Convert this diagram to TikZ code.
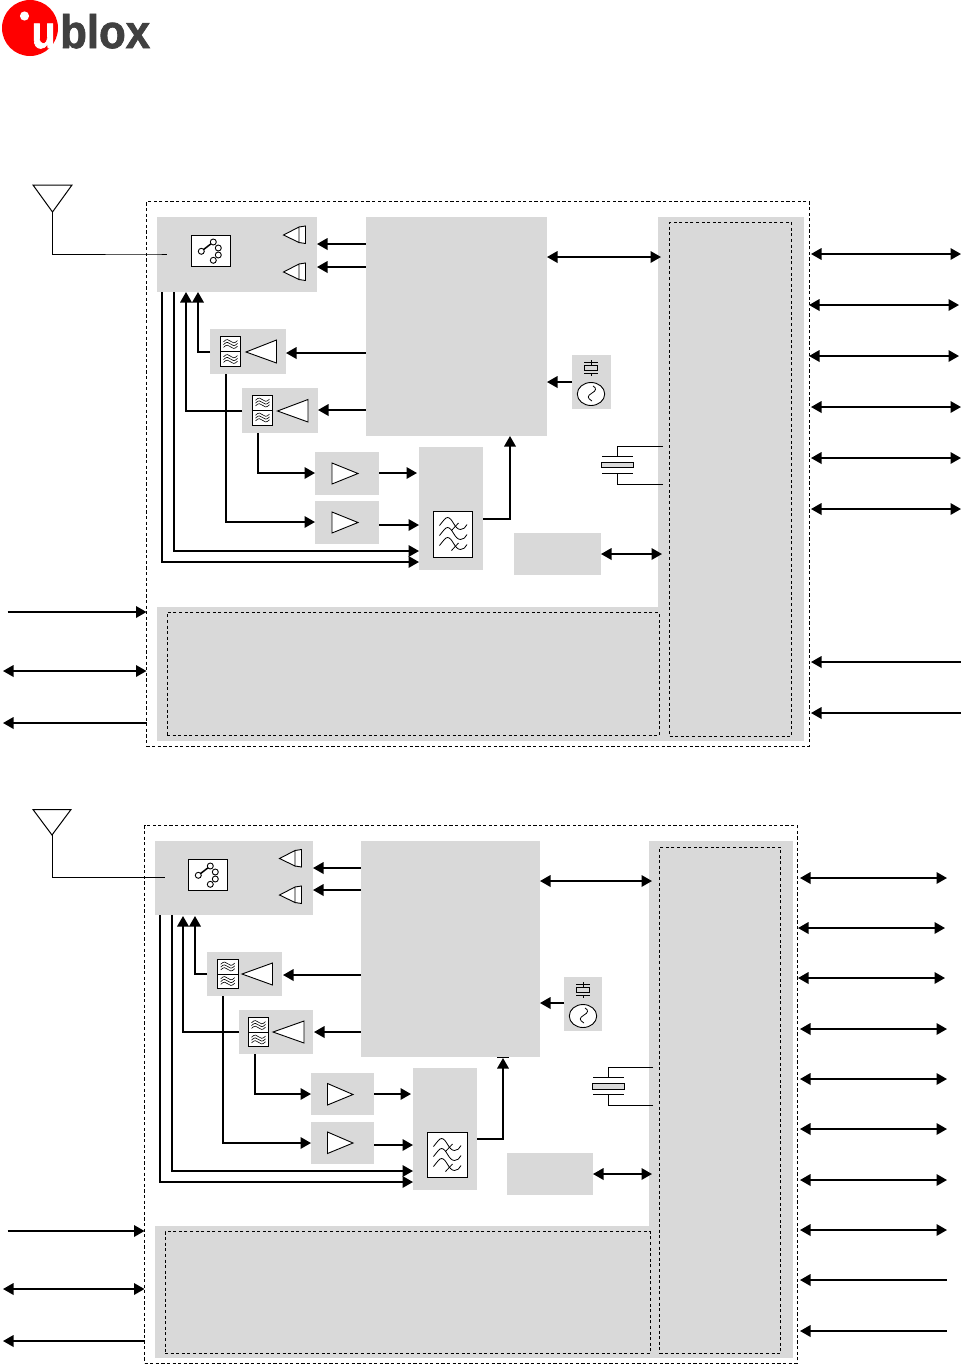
\documentclass[tikz,border=0pt]{standalone}
\usepackage{fontspec}
\setmainfont{Liberation Sans}
\newfontfamily\logofont[FakeBold=1.6]{Liberation Sans Bold}
\usetikzlibrary{arrows.meta}
\definecolor{boxgray}{HTML}{D9D9D9}
\definecolor{logored}{HTML}{FF0000}
\definecolor{logodark}{HTML}{404040}
\tikzset{
  grayblock/.style={fill=boxgray,draw=none,inner sep=0pt,outer sep=0pt,anchor=north west},
  iconbox/.style={fill=white,draw=black,line width=0.9pt,inner sep=0pt,outer sep=0pt,anchor=north west},
  chipedge/.style={draw=black,line width=0.9pt,dash pattern=on 3.2pt off 2.4pt,inner sep=0pt,outer sep=0pt,anchor=north west},
  zone/.style={draw=black,line width=0.8pt,dash pattern=on 3pt off 2.6pt,inner sep=0pt,outer sep=0pt,anchor=north west},
  wire/.style={line width=1.8pt,draw=black},
  thin wire/.style={line width=1pt,draw=black},
  toarrow/.style={wire,-{Triangle[length=10.5pt,width=11.5pt]}},
  fromarrow/.style={wire,{Triangle[length=10.5pt,width=11.5pt]}-},
  botharrow/.style={wire,{Triangle[length=10.5pt,width=11.5pt]}-{Triangle[length=10.5pt,width=11.5pt]}},
  symbol/.style={fill=white,draw=black,line width=0.9pt},
  fine/.style={line width=0.6pt,draw=black},
}
% name, x1, y1, x2, y2
\newcommand\rbox[6][grayblock]{\node[#1,minimum width={(#5-#3)*1pt},minimum height={(#6-#4)*1pt}] (#2) at (#3,#4) {};}
% tip x, base x, y top, y bottom, tip y
\newcommand\amptri[5]{\draw[symbol] (#1,#5) -- (#2,#3) -- (#2,#4) -- cycle;}
% double triangle: tip x, centre y
\newcommand\drvtri[2]{%
  \draw[symbol] (#1+15.5,#2-8) -- (#1+22,#2-9) -- (#1+22,#2+8.5) -- (#1+15.5,#2+7.5);
  \draw[symbol] (#1,#2) -- (#1+15.5,#2-8) -- (#1+15.5,#2+7.5) -- cycle;}
% switch glyph relative to icon top left
\newcommand\switchglyph[2]{\begin{scope}[shift={(#1,#2)}]
  \draw[line width=1.5pt] (10.3,16.3) -- (22.3,7);
  \foreach \cx/\cy in {10.3/16.3,22.3/7,27.3/13,27.3/20,22.3/25.3}
    \draw[symbol] (\cx,\cy) circle[radius=3pt];
\end{scope}}
% wave lines in a filter cell, relative to cell centre
\newcommand\smallwaves[2]{\begin{scope}[shift={(#1,#2)}]
  \foreach \dy in {-2.8,0,2.8}
    \draw[fine] (-7,\dy+0.6) .. controls (-4,\dy-2.6) and (-2,\dy-2) .. (0,\dy) .. controls (2,\dy+2) and (4,\dy+2.6) .. (7,\dy-0.6);
\end{scope}}
\newcommand\mixwaves[2]{\begin{scope}[shift={(#1,#2)}]
  \foreach \dy in {0,10,20}
    \draw[line width=0.8pt] (6,14+\dy) .. controls (10,9+\dy) and (12,6+\dy) .. (14,6+\dy) .. controls (19,6+\dy) and (21,18+\dy) .. (27,18+\dy) .. controls (30,18+\dy) and (32,16+\dy) .. (33.5,13+\dy);
  \draw[line width=0.8pt] (18,19) -- (25,11.5) (18,39) -- (25,31.5);
\end{scope}}
% crystal: centre x, top lead y, bottom lead y, unused, lead end x
\newcommand\xtal[5]{%
  \draw[thin wire] (#5,#2) -| (#1,#2+10);
  \draw[thin wire] (#1-15.5,#2+10) -- (#1+15.5,#2+10);
  \draw[symbol,fill=boxgray] (#1-16,#2+16) rectangle (#1+16,#2+21.5);
  \draw[thin wire] (#1-15.5,#2+27) -- (#1+15.5,#2+27);
  \draw[thin wire] (#5,#3) -| (#1,#2+27);
}
% oscillator glyph: centre x, box top y
\newcommand\oscglyph[2]{\begin{scope}[shift={(#1,#2)}]
  \draw[fine] (0,5) -- (0,10) (-7,7.5) -- (7,7.5);
  \draw[symbol,fill=boxgray] (-6.5,10.5) rectangle (6.5,15);
  \draw[fine] (-7,18) -- (7,18) (0,18) -- (0,21);
  \draw[symbol] (0,39) ellipse[x radius=13.7pt,y radius=11.5pt];
  \draw[line width=0.8pt] (2,31) .. controls (6,33) and (5,36) .. (1,38) .. controls (-4,41) and (-4,43) .. (1,46);
\end{scope}}
\begin{document}
\begin{tikzpicture}[x=1pt,y=-1pt]
\useasboundingbox (0,0) rectangle (962,1366);
\fill[white] (0,0) rectangle (962,1366);

% ---------- logo ----------
\fill[logored] (30,28) circle[radius=28pt];
\fill[white] (24.5,16) circle[radius=4.6pt];
\node[inner sep=0pt,anchor=base west,text=white,font=\logofont\fontsize{46}{46}\selectfont,xscale=0.85,transform shape] (logou) at (31.5,48) {u};
\node[inner sep=0pt,anchor=base west,text=logodark,font=\logofont\fontsize{47}{47}\selectfont,xscale=0.93,transform shape] (logotext) at (60,48) {blox};

% ========== TOP DIAGRAM ==========
\rbox{feA}{157}{217}{317}{292}
\rbox{digA}{366}{217}{547}{436}
\rbox{rightA}{658}{217}{804}{741}
\rbox{botA}{157}{607}{658}{741}
\rbox{paOneA}{210}{329}{286}{374}
\rbox{paTwoA}{242}{388}{318}{433}
\rbox{lnaOneA}{315}{452}{379}{495}
\rbox{lnaTwoA}{315}{501}{379}{544}
\rbox{mixA}{419}{447}{483}{570}
\rbox{smallA}{514}{533}{601}{575}
\rbox{oscA}{572}{355}{611}{409}
\rbox[zone]{zoneRightA}{669.5}{222.5}{791.5}{736}
\rbox[zone]{zoneBotA}{167}{612.5}{659}{735.5}
\rbox[chipedge]{chipA}{146.5}{201.5}{809}{746}

\rbox[iconbox]{swA}{191}{235}{230}{266.5}
\switchglyph{191}{235}
\drvtri{283.5}{235}
\drvtri{283.5}{272}
\rbox[iconbox]{fOneA}{220.5}{336.5}{240.5}{351.5}
\rbox[iconbox]{fOneBA}{220.5}{351.5}{240.5}{366.5}
\smallwaves{230.5}{344}\smallwaves{230.5}{359}
\amptri{246}{276.5}{340}{363}{352}
\rbox[iconbox]{fTwoA}{252.5}{395}{272.5}{410}
\rbox[iconbox]{fTwoBA}{252.5}{410}{272.5}{425}
\smallwaves{262.5}{402.5}\smallwaves{262.5}{417.5}
\amptri{277.5}{308}{399.5}{422}{411}
\amptri{358}{332}{463}{484}{473.5}
\amptri{358}{332}{512}{533}{522.5}
\rbox[iconbox]{mfA}{433.5}{511.5}{472.5}{557}
\mixwaves{433.5}{511.5}
\oscglyph{591}{355}
\xtal{617.5}{446}{484}{0}{663}

% antenna
\draw[thin wire] (33,185) -- (72,185) -- (52.5,212) -- cycle;
\coordinate (antA) at (52.5,212);
\draw[thin wire] (antA) |- (feA.west |- 0,254) -- (167,254);

% internal connectors
\draw[fromarrow] (feA.east |- 0,244) -- (digA.west |- 0,244);
\draw[fromarrow] (feA.east |- 0,267) -- (digA.west |- 0,267);
\draw[fromarrow] (paOneA.east |- 0,353) -- (digA.west |- 0,353);
\draw[fromarrow] (paTwoA.east |- 0,410) -- (digA.west |- 0,410);
\draw[toarrow] (paOneA.west |- 0,352) -| (198,292);
\draw[toarrow] (paTwoA.west |- 0,411) -| (186,292);
\draw[toarrow] (feA.south -| 162,0) |- (mixA.west |- 0,562);
\draw[toarrow] (feA.south -| 174,0) |- (mixA.west |- 0,551);
\draw[toarrow] (paOneA.south -| 226,0) |- (lnaTwoA.west |- 0,522);
\draw[toarrow] (paTwoA.south -| 258,0) |- (lnaOneA.west |- 0,473);
\draw[toarrow] (lnaOneA.east |- 0,473) -- (417,473);
\draw[toarrow] (lnaTwoA.east |- 0,525) -- (mixA.west |- 0,525);
\draw[toarrow] (mixA.east |- 0,519) -| (digA.south -| 510,0);
\draw[botharrow] (digA.east |- 0,257) -- (661,257);
\draw[toarrow] (oscA.west |- 0,382) -- (digA.east |- 0,382);
\draw[botharrow] (smallA.east |- 0,554) -- (662,554);

% external connectors
\foreach \n/\y/\xa/\xb in {1/254/811/961,2/305/809/959,3/356/809/959,4/407/811/961,5/458/811/961,6/509/811/961}{
  \coordinate (ra\n) at (\xa,\y); \coordinate (rb\n) at (\xb,\y);
  \draw[botharrow] (ra\n) -- (rb\n);
}
\foreach \n/\y in {7/662,8/713}{
  \coordinate (ra\n) at (811,\y); \coordinate (rb\n) at (961,\y);
  \draw[fromarrow] (ra\n) -- (rb\n);
}
\coordinate (la1) at (7.5,612); \draw[toarrow] (la1) -- (chipA.west |- la1);
\coordinate (la2) at (3,671); \draw[botharrow] (la2) -- (chipA.west |- la2);
\coordinate (la3) at (3,723); \draw[fromarrow] (la3) -- (chipA.west |- la3);

% ========== BOTTOM DIAGRAM ==========
\rbox{feB}{155}{841}{313}{915}
\rbox{digB}{361}{841}{540}{1057}
\rbox{rightB}{649}{841}{793}{1358}
\rbox{botB}{155}{1226}{649}{1358}
\rbox{paOneB}{207}{952}{282}{996}
\rbox{paTwoB}{239}{1010}{313}{1054}
\rbox{lnaOneB}{311}{1073}{374}{1115}
\rbox{lnaTwoB}{311}{1122}{374}{1164}
\rbox{mixB}{413}{1068}{477}{1190}
\rbox{smallB}{507}{1153}{593}{1195}
\rbox{oscB}{564}{977}{602}{1031}
\rbox[zone]{zoneRightB}{659.5}{847}{780.5}{1353.5}
\rbox[zone]{zoneBotB}{165}{1231.5}{650}{1353.5}
\rbox[chipedge]{chipB}{144.5}{825.5}{797}{1363}

\rbox[iconbox]{swB}{188}{859}{227}{890.5}
\switchglyph{188}{859}
\drvtri{279.5}{858.5}
\drvtri{279.5}{895}
\rbox[iconbox]{fOneB}{217.5}{959}{238}{974}
\rbox[iconbox]{fOneBB}{217.5}{974}{238}{988.5}
\smallwaves{227.7}{966.5}\smallwaves{227.7}{981}
\amptri{242}{272.5}{963}{985}{974}
\rbox[iconbox]{fTwoB}{248.5}{1017.5}{268.5}{1032.5}
\rbox[iconbox]{fTwoBB}{248.5}{1032.5}{268.5}{1046.5}
\smallwaves{258.5}{1025}\smallwaves{258.5}{1039.5}
\amptri{273}{304}{1021}{1043}{1032}
\amptri{353}{327.5}{1083.5}{1105}{1094.5}
\amptri{353}{327.5}{1132}{1153.5}{1143}
\rbox[iconbox]{mfB}{427.5}{1132.5}{467}{1177.5}
\mixwaves{427.5}{1132.5}
\oscglyph{583}{977}
\xtal{608.5}{1067.5}{1105.5}{0}{653}

% antenna
\draw[thin wire] (33,809.5) -- (71,809.5) -- (52,835) -- cycle;
\coordinate (antB) at (52,835);
\draw[thin wire] (antB) |- (165,877.5);

% internal connectors
\draw[fromarrow] (feB.east |- 0,868) -- (digB.west |- 0,868);
\draw[fromarrow] (feB.east |- 0,890) -- (digB.west |- 0,890);
\draw[fromarrow] (283,975) -- (digB.west |- 0,975);
\draw[fromarrow] (314,1032) -- (digB.west |- 0,1032);
\draw[toarrow] (paOneB.west |- 0,974) -| (195,916);
\draw[toarrow] (paTwoB.west |- 0,1032) -| (183,916);
\draw[toarrow] (feB.south -| 160,0) |- (mixB.west |- 0,1182);
\draw[toarrow] (feB.south -| 172,0) |- (mixB.west |- 0,1171);
\draw[toarrow] (paOneB.south -| 223,0) |- (lnaTwoB.west |- 0,1143);
\draw[toarrow] (paTwoB.south -| 255,0) |- (lnaOneB.west |- 0,1094);
\draw[toarrow] (lnaOneB.east |- 0,1094) -- (411,1094);
\draw[toarrow] (lnaTwoB.east |- 0,1145) -- (mixB.west |- 0,1145);
\draw[toarrow] (mixB.east |- 0,1139) -| (503,1058);
\draw[thin wire] (497,1057.5) -- (509,1057.5);
\draw[botharrow] (digB.east |- 0,881) -- (652,881);
\draw[toarrow] (oscB.west |- 0,1003) -- (digB.east |- 0,1003);
\draw[botharrow] (smallB.east |- 0,1174) -- (652,1174);

% external connectors
\foreach \n/\y/\xa/\xb in {1/878/800/947,2/928/798/945,3/978/798/945,4/1029/800/947,5/1079/800/947,6/1129/800/947,7/1180/800/947,8/1230/800/947}{
  \coordinate (sa\n) at (\xa,\y); \coordinate (sb\n) at (\xb,\y);
  \draw[botharrow] (sa\n) -- (sb\n);
}
\foreach \n/\y in {9/1280,10/1331}{
  \coordinate (sa\n) at (800,\y); \coordinate (sb\n) at (947,\y);
  \draw[fromarrow] (sa\n) -- (sb\n);
}
\coordinate (lb1) at (7.5,1231); \draw[toarrow] (lb1) -- (chipB.west |- lb1);
\coordinate (lb2) at (3,1289); \draw[botharrow] (lb2) -- (chipB.west |- lb2);
\coordinate (lb3) at (3,1341); \draw[fromarrow] (lb3) -- (chipB.west |- lb3);
\end{tikzpicture}
\end{document}
